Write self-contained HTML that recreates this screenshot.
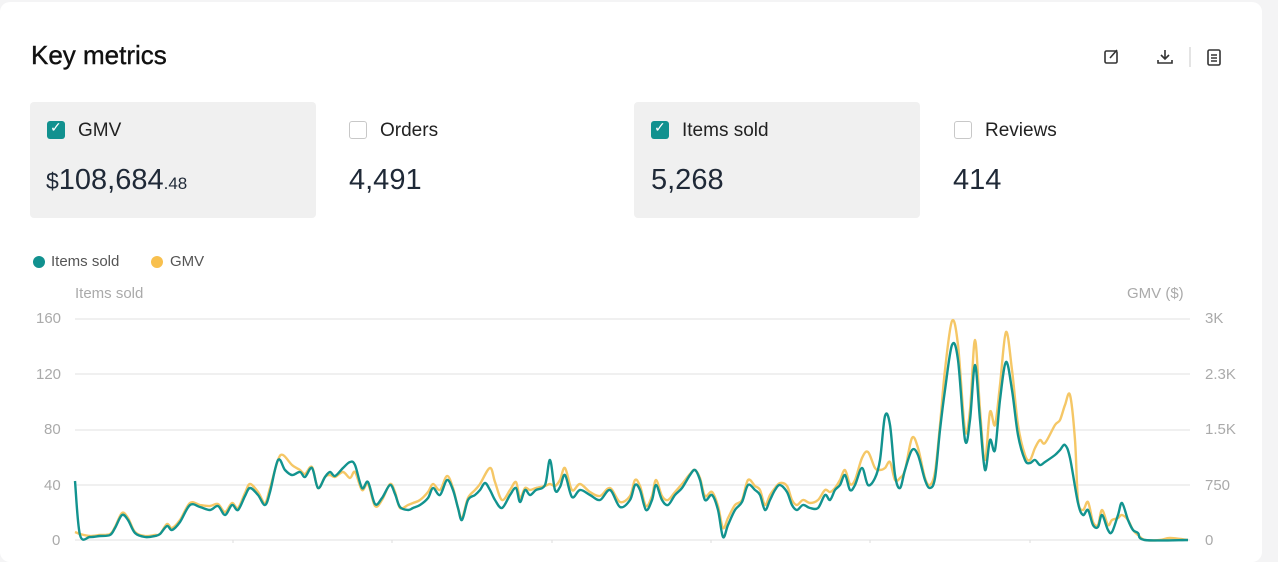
<!DOCTYPE html>
<html><head><meta charset="utf-8"><style>
body{margin:0;width:1278px;height:543px;overflow:hidden;background:#f4f4f5;font-family:"Liberation Sans",sans-serif}
.card{position:absolute;left:0;top:2px;width:1262px;height:560px;background:#fff;border-radius:10px}
.t{position:absolute;white-space:nowrap}
.box{position:absolute;top:102px;width:286px;height:116px;border-radius:4px}
.cb{position:absolute;width:18px;height:18px;border-radius:3px;box-sizing:border-box}
.on{background:#11918f}
.off{border:1.5px solid #c8c8c8;background:#fff}
.lab{font-size:19px;color:#222}
.val{font-size:29px;color:#1f2937}
.ax{font-size:15px;color:#aaa}
</style></head><body>
<div class="card"></div>
<div class="t" style="left:31px;top:40px;font-size:26px;color:#111;-webkit-text-stroke:0.4px #111">Key metrics</div>
<svg style="position:absolute;left:1100px;top:45px" width="130" height="25" fill="none" stroke="#333" stroke-width="1.6">
<rect x="5" y="6" width="12" height="12" rx="1.5"/><path d="M10 13l7-8"/>
<path d="M65 5v9M61 10l4 4 4-4M58 15v3h14v-3"/>
<line x1="90" y1="2" x2="90" y2="22" stroke="#ddd"/>
<rect x="108" y="5" width="12" height="15" rx="1.5"/><path d="M111 10h6M111 13h6M111 16h6"/>
</svg>
<div class="box" style="left:30px;background:#f0f0f0"></div>
<div class="box" style="left:634px;background:#f0f0f0"></div>
<div class="cb on" style="left:47px;top:121px"></div><div class="t" style="left:50px;top:119px;color:#fff;font-size:14px">✓</div>
<div class="t lab" style="left:78px;top:120px">GMV</div>
<div class="t val" style="left:46px;top:164px"><span style="font-size:23px">$</span>108,684<span style="font-size:17px">.48</span></div>
<div class="cb off" style="left:349px;top:121px"></div>
<div class="t lab" style="left:380px;top:120px">Orders</div>
<div class="t val" style="left:349px;top:164px">4,491</div>
<div class="cb on" style="left:651px;top:121px"></div><div class="t" style="left:654px;top:119px;color:#fff;font-size:14px">✓</div>
<div class="t lab" style="left:682px;top:120px">Items sold</div>
<div class="t val" style="left:651px;top:164px">5,268</div>
<div class="cb off" style="left:954px;top:121px"></div>
<div class="t lab" style="left:985px;top:120px">Reviews</div>
<div class="t val" style="left:953px;top:164px">414</div>

<div class="t" style="left:33px;top:256px;width:12px;height:12px;border-radius:6px;background:#11918f"></div>
<div class="t" style="left:51px;top:253px;font-size:15px;color:#555">Items sold</div>
<div class="t" style="left:151px;top:256px;width:12px;height:12px;border-radius:6px;background:#f8c04e"></div>
<div class="t" style="left:170px;top:253px;font-size:15px;color:#555">GMV</div>
<div class="t ax" style="left:75px;top:285px">Items sold</div>
<div class="t ax" style="left:1127px;top:285px">GMV ($)</div>
<div class="t ax" style="left:36px;top:310px">160</div>
<div class="t ax" style="left:36px;top:366px">120</div>
<div class="t ax" style="left:44px;top:421px">80</div>
<div class="t ax" style="left:44px;top:477px">40</div>
<div class="t ax" style="left:52px;top:532px">0</div>
<div class="t ax" style="left:1205px;top:310px">3K</div>
<div class="t ax" style="left:1205px;top:366px">2.3K</div>
<div class="t ax" style="left:1205px;top:421px">1.5K</div>
<div class="t ax" style="left:1205px;top:477px">750</div>
<div class="t ax" style="left:1205px;top:532px">0</div>
<svg style="position:absolute;left:0;top:0" width="1278" height="543">
<g stroke="#e8e8e8" stroke-width="1.2"><line x1="75" x2="1190" y1="319" y2="319"/><line x1="75" x2="1190" y1="374" y2="374"/><line x1="75" x2="1190" y1="430" y2="430"/><line x1="75" x2="1190" y1="485" y2="485"/><line x1="75" x2="1190" y1="540" y2="540"/></g>
<g stroke="#ddd"><path d="M233 540v4M392 540v4M552 540v4M711 540v4M870 540v4M1030 540v4"/></g>
<polyline class="sm" fill="none" stroke="#f5c766" stroke-width="2.4" stroke-linejoin="round" points="75,532 80,534 90,536 100,535 110,534 115,527 122,513 128,518 135,532 145,536 155,535 160,534 167,524 172,528 180,520 190,503 200,505 210,506 218,504 225,512 232,503 238,508 245,493 250,484 258,492 265,503 270,488 278,460 283,455 292,465 300,470 305,474 312,467 318,488 325,477 330,475 335,477 343,472 350,478 355,472 362,490 368,484 375,506 382,500 390,484 395,492 400,508 408,505 413,503 420,500 428,492 433,484 440,490 447,476 453,488 458,508 462,518 468,498 475,490 480,484 490,468 495,482 502,500 510,490 516,482 520,498 525,488 530,490 536,488 545,486 550,484 555,486 560,480 565,468 572,490 580,484 590,492 600,496 610,488 620,502 630,496 635,480 640,486 646,506 652,496 656,480 662,496 668,500 675,492 682,484 690,474 695,470 700,478 705,496 712,492 718,506 723,528 728,518 735,505 742,500 748,480 755,486 760,490 765,505 770,495 775,488 780,483 787,486 792,500 797,505 803,500 810,503 818,500 825,490 830,492 835,488 840,480 845,470 850,484 855,480 862,458 868,452 875,468 880,470 885,468 890,462 895,480 900,478 905,470 912,438 918,448 925,478 930,485 935,472 940,425 945,370 952,321 958,345 965,430 970,410 975,340 980,410 985,460 990,412 995,425 1000,385 1006,332 1012,370 1018,425 1025,455 1030,460 1035,448 1040,440 1045,443 1055,425 1060,420 1065,405 1070,395 1075,440 1078,500 1083,510 1088,502 1093,522 1098,525 1102,510 1108,525 1112,520 1118,518 1122,515 1128,520 1133,530 1138,535 1145,540 1160,540 1170,538 1188,540"/>
<polyline class="sm" fill="none" stroke="#12938f" stroke-width="2.4" stroke-linejoin="round" points="75,481 80,535 90,537 100,536 110,535 115,528 122,515 128,520 135,533 145,537 155,536 160,534 167,526 172,530 180,522 190,505 200,507 210,510 218,506 225,515 232,505 238,510 245,496 250,488 258,495 265,505 270,492 278,460 285,470 292,475 300,472 305,477 312,468 318,488 325,477 330,472 335,476 343,468 350,462 355,465 362,488 368,482 375,504 382,498 390,485 395,494 400,507 408,510 413,508 420,505 428,498 433,488 440,495 447,480 453,490 458,508 462,520 468,500 475,495 480,490 485,483 490,490 495,500 502,508 510,495 516,488 520,502 525,490 530,495 536,490 545,485 550,460 555,490 560,487 565,475 572,497 580,490 590,495 600,500 610,490 620,507 630,500 635,485 640,490 646,510 652,500 656,485 662,500 668,505 675,495 682,488 690,475 695,470 700,480 705,500 712,495 718,510 723,537 728,525 735,510 742,502 748,485 755,490 760,495 765,510 770,500 775,490 780,485 787,492 792,505 797,510 803,505 810,508 818,508 825,495 830,500 835,490 840,485 845,475 850,490 855,485 862,468 868,485 875,478 880,460 885,416 890,425 895,475 900,488 905,470 912,450 918,455 925,480 930,488 935,478 940,430 945,390 952,345 958,360 965,440 970,420 975,365 980,420 985,470 990,440 995,450 1000,400 1006,362 1012,390 1018,435 1025,460 1030,463 1035,460 1040,465 1045,462 1055,455 1060,450 1065,445 1070,458 1078,503 1083,515 1088,510 1093,525 1098,527 1102,515 1108,530 1112,532 1118,515 1122,503 1128,520 1133,530 1138,533 1145,540 1188,540"/>
</svg>
<script>
document.querySelectorAll('polyline.sm').forEach(function(pl){
var p=pl.getAttribute('points').trim().split(/\s+/).map(function(s){return s.split(',').map(Number)});
var d='M'+p[0][0]+' '+p[0][1];
for(var i=0;i<p.length-1;i++){var a=p[i-1]||p[i],b=p[i],c=p[i+1],e=p[i+2]||c;
d+=' C'+(b[0]+(c[0]-a[0])/6)+' '+(b[1]+(c[1]-a[1])/6)+' '+(c[0]-(e[0]-b[0])/6)+' '+(c[1]-(e[1]-b[1])/6)+' '+c[0]+' '+c[1];}
var path=document.createElementNS('http://www.w3.org/2000/svg','path');
['fill','stroke','stroke-width','stroke-linejoin'].forEach(function(k){path.setAttribute(k,pl.getAttribute(k))});
path.setAttribute('d',d);pl.parentNode.replaceChild(path,pl);});
</script>
</body></html>
